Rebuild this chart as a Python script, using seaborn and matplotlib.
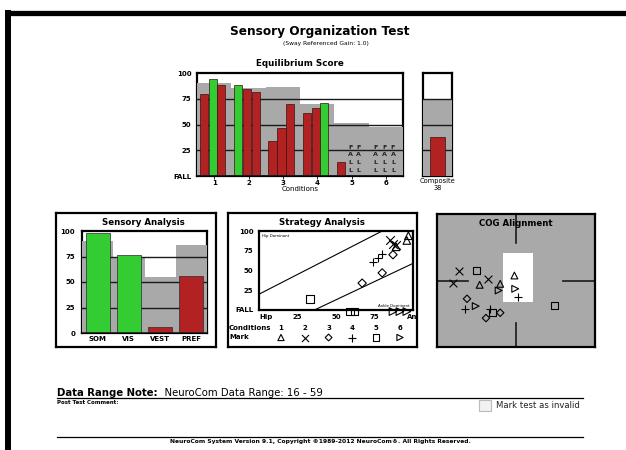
import matplotlib
matplotlib.use('Agg')
import matplotlib.pyplot as plt
from matplotlib.patches import Rectangle
import numpy as np
import pandas as pd
import seaborn as sns

plt.rcParams['font.family'] = ['DejaVu Sans']

# ---- data ----
conditions = ['1', '2', '3', '4', '5', '6']
norm_scores = [90, 85.5, 86, 70, 51.5, 48]
trial_1 = [80, 88, 34, 61, 14, np.nan]
trial_2 = [94, 84, 47, 66, np.nan, np.nan]
trial_3 = [88, 82, 70, 71, np.nan, np.nan]
composite_score = 38
composite_norm = 74

sensory_labels = ['SOM', 'VIS', 'VEST', 'PREF']
sensory_scores = [98, 76, 6, 56]
sensory_norms = [90, 75, 55, 86]

# strategy score (0 = hip, 100 = ankle) for each trial; falls have no equilibrium score
strategy_1 = [89, 97, 96]
strategy_2 = [85, 87, 89]
strategy_3 = [67, 80, 87]
strategy_4 = [74, 77, 80]
strategy_5 = [33, 59, 62]
strategy_6 = [87, 91.5, 96]

# COG alignment positions per condition (x, y)
cog_x = [[-4.6, -2.0, -0.2], [-7.2, -8.0, -3.6], [-6.2, -2.0, -3.8],
         [0.2, -6.4, -3.3], [-5.0, 4.9, -3.0], [-2.2, -0.1, -5.1]]
cog_y = [[-0.65, -0.5, 0.75], [1.5, -0.35, 0.25], [-2.75, -4.85, -5.65],
         [-2.5, -4.25, -4.25], [1.5, -3.75, -4.85], [-1.5, -1.25, -3.85]]

RED = '#B22222'
GREEN = '#33CC33'
GRAY = '#A9A9A9'
MARKERS = ['^', 'x', 'D', '+', 's', '>']

W, H = 626, 450
fig = plt.figure(figsize=(W / 100, H / 100), dpi=100)


def px_axes(x0, y0, x1, y1, **kw):
    return fig.add_axes([x0 / W, 1 - y1 / H, (x1 - x0) / W, (y1 - y0) / H], **kw)


def draw_marks(ax, x, y, cond, size, **kw):
    m = MARKERS[cond]
    if m in ('x', '+'):
        ax.scatter(x, y, marker=m, s=size * 1.3, c='black', linewidths=0.8, **kw)
    else:
        ax.scatter(x, y, marker=m, s=size * (0.6 if m == 'D' else 1), facecolors='none',
                   edgecolors='black', linewidths=0.8, **kw)


def pixel_panel(x0, y0, x1, y1):
    p = px_axes(x0, y0, x1, y1)
    p.set_xlim(x0, x1)
    p.set_ylim(y1, y0)
    p.set_xticks([])
    p.set_yticks([])
    p.patch.set_alpha(0)
    for s in p.spines.values():
        s.set_linewidth(1.6)
    return p


# ---- page background / header / footer ----
bg = px_axes(0, 0, W, H)
bg.set_xlim(0, W)
bg.set_ylim(H, 0)
bg.axis('off')
bg.plot([5, W], [12.5, 12.5], color='black', lw=3.8, solid_capstyle='butt')
bg.plot([8, 8], [10, H], color='black', lw=4.3, solid_capstyle='butt')
bg.text(320, 31, 'Sensory Organization Test', ha='center', va='center', fontsize=8.7, fontweight='bold')
bg.text(326, 44, '(Sway Referenced Gain: 1.0)', ha='center', va='center', fontsize=4.3)
bg.text(300, 64, 'Equilibrium Score', ha='center', va='center', fontsize=6.3, fontweight='bold')

t = bg.text(57, 395.5, 'Data Range Note:', ha='left', va='baseline', fontsize=7.3, fontweight='bold')
bg.annotate('  NeuroCom Data Range: 16 - 59', xy=(1, 0), xycoords=t, ha='left', va='bottom', fontsize=7.3)
bg.plot([57, 583], [398, 398], color='black', lw=0.9)
bg.text(57, 402, 'Post Test Comment:', ha='left', va='center', fontsize=4, fontweight='bold')
bg.add_patch(Rectangle((479, 400), 12, 11, fc='#F2F2F2', ec='#BBBBBB', lw=0.8))
bg.text(496, 406, 'Mark test as invalid', ha='left', va='center', fontsize=6.1, color='#222222')
bg.plot([57, 583], [437, 437], color='black', lw=0.9)
bg.text(320, 441.5, 'NeuroCom System Version 9.1, Copyright \u00a91989-2012 NeuroCom\u00ae. All Rights Reserved.',
        ha='center', va='center', fontsize=4.3, fontweight='bold')

# ---- equilibrium score ----
eq = px_axes(197, 73, 403, 176)
sns.barplot(x=conditions, y=norm_scores, color=GRAY, saturation=1, width=1.0, ax=eq, zorder=1)
offsets = [-0.3, -0.04, 0.21]
for k, trial in enumerate([trial_1, trial_2, trial_3]):
    for i, score in enumerate(trial):
        if np.isnan(score):
            for j, ch in enumerate('FALL'):
                eq.text(i + offsets[k], 28 - j * 7.5, ch, ha='center', va='center',
                        fontsize=4.6, fontweight='bold', color='#222222', zorder=4)
        else:
            col = GREEN if score >= norm_scores[i] else RED
            eq.bar(i + offsets[k], score, width=0.24, color=col, edgecolor='#3a1010', lw=0.5, zorder=3)
for v in (25, 50, 75):
    eq.axhline(v, color='#1a1a1a', lw=1.0, zorder=2)
eq.axhline(0, color='#1a1a1a', lw=1.4, zorder=4)
eq.set_xlim(-0.5, 5.5)
eq.set_ylim(0, 100)
for s in eq.spines.values():
    s.set_linewidth(1.6)
    s.set_zorder(0.5)
eq.set_yticks([0, 25, 50, 75, 100], ['FALL', '25', '50', '75', '100'])
eq.tick_params(axis='y', length=0, pad=4, labelsize=5)
eq.tick_params(axis='x', length=2, width=0.6, pad=1, labelsize=5)
for lab in eq.get_xticklabels() + eq.get_yticklabels():
    lab.set_fontweight('bold')
eq.set_xlabel('Conditions', fontsize=5, labelpad=0)
eq.set_ylabel('')

# ---- composite ----
comp = px_axes(423, 73, 452, 176)
sns.barplot(x=['Composite'], y=[composite_norm], color=GRAY, saturation=1, width=1.0, ax=comp, zorder=1)
comp.bar(0, composite_score, width=0.5, color=GREEN if composite_score >= composite_norm else RED,
         edgecolor='#3a1010', lw=0.5, zorder=3)
for v in (25, 50, 75):
    comp.axhline(v, color='#1a1a1a', lw=1.0, zorder=2)
comp.set_xlim(-0.5, 0.5)
comp.set_ylim(0, 100)
for s in comp.spines.values():
    s.set_linewidth(1.6)
    s.set_zorder(0.5)
comp.set_xticks([])
comp.set_yticks([])
comp.set_xlabel('')
comp.set_ylabel('')
bg.text(437.5, 181, 'Composite', ha='center', va='center', fontsize=4.8)
bg.text(437.5, 187.5, str(composite_score), ha='center', va='center', fontsize=4.8)

# ---- sensory analysis ----
sp = pixel_panel(56, 213, 216, 347)
sp.text(143, 222, 'Sensory Analysis', ha='center', va='center', fontsize=6.2, fontweight='bold')
sa = px_axes(82, 231, 207, 333)
status = ['above' if s >= n else 'below' for s, n in zip(sensory_scores, sensory_norms)]
sns.barplot(x=sensory_labels, y=sensory_norms, color=GRAY, saturation=1, width=1.0, ax=sa, zorder=1)
sns.barplot(x=sensory_labels, y=sensory_scores, hue=status, palette={'above': GREEN, 'below': RED},
            saturation=1, width=0.77, dodge=False, legend=False, ax=sa, zorder=3,
            edgecolor='#2a2a2a', linewidth=0.5)
for v in (25, 50, 75):
    sa.axhline(v, color='#1a1a1a', lw=1.0, zorder=2)
sa.axhline(0, color='#1a1a1a', lw=1.2, zorder=4)
sa.set_xlim(-0.5, 3.5)
sa.set_ylim(0, 100)
for s in sa.spines.values():
    s.set_linewidth(1.6)
    s.set_zorder(0.5)
sa.set_yticks([0, 25, 50, 75, 100])
sa.tick_params(axis='y', length=0, pad=5, labelsize=5)
sa.tick_params(axis='x', length=0, pad=2, labelsize=5)
for lab in sa.get_xticklabels() + sa.get_yticklabels():
    lab.set_fontweight('bold')
sa.set_xlabel('')
sa.set_ylabel('')

# ---- strategy analysis ----
stp = pixel_panel(228, 213, 417, 347)
stp.text(322, 222, 'Strategy Analysis', ha='center', va='center', fontsize=6.2, fontweight='bold')
stp.text(407, 316.5, 'Ankle', ha='left', va='center', fontsize=5, fontweight='bold', clip_on=True)
leg_x = np.linspace(281, 400, 6)
stp.text(229, 327.5, 'Conditions', ha='left', va='center', fontsize=5, fontweight='bold')
stp.text(229, 337, 'Mark', ha='left', va='center', fontsize=5, fontweight='bold')
for c in range(6):
    stp.text(leg_x[c], 327.5, conditions[c], ha='center', va='center', fontsize=5, fontweight='bold')
    draw_marks(stp, [leg_x[c]], [337.5], c, 20, zorder=3)

st = px_axes(259, 231, 413, 310)
st.set_xlim(0, 100)
st.set_ylim(0, 100)
st.plot([0, 80], [20, 100], color='black', lw=0.8)
st.plot([36, 100], [0, 59], color='black', lw=0.8)
st.text(2, 96, 'Hip Dominant', ha='left', va='top', fontsize=2.8)
st.text(98, 2.5, 'Ankle Dominant', ha='right', va='bottom', fontsize=2.8)
strategies = [strategy_1, strategy_2, strategy_3, strategy_4, strategy_5, strategy_6]
for c in range(6):
    eqs = np.array([trial_1[c], trial_2[c], trial_3[c]], dtype=float)
    ys = np.where(np.isnan(eqs), -2, eqs)
    draw_marks(st, strategies[c], ys, c, 30, zorder=3, clip_on=False)
for s in st.spines.values():
    s.set_linewidth(1.6)
st.set_yticks([0, 25, 50, 75, 100], ['FALL', '25', '50', '75', '100'])
st.set_xticks([0, 25, 50, 75], ['Hip', '25', '50', '75'])
st.tick_params(axis='both', length=0, labelsize=5)
st.tick_params(axis='x', pad=3)
st.tick_params(axis='y', pad=4)
for lab in st.get_xticklabels() + st.get_yticklabels():
    lab.set_fontweight('bold')
st.get_xticklabels()[0].set_ha('left')

# ---- COG alignment ----
cog = px_axes(437, 214, 595, 347, facecolor=GRAY)
cog.set_xlim(-10, 10)
cog.set_ylim(-10, 10)
cog.add_patch(Rectangle((-1.65, -3.2), 3.8, 7.3, fc='white', ec='none', zorder=1))
for xs, ys in [([0, 0], [5.6, 10]), ([0, 0], [-10, -6.4]), ([-10, -6.1], [0, 0]), ([6.0, 10], [0, 0])]:
    cog.plot(xs, ys, color='#1a1a1a', lw=1.2, zorder=2)
for c in range(6):
    draw_marks(cog, cog_x[c], cog_y[c], c, 24, zorder=3)
cog.text(0, 8.6, 'COG Alignment', ha='center', va='center', fontsize=6.2, fontweight='bold')
cog.set_xticks([])
cog.set_yticks([])
for s in cog.spines.values():
    s.set_linewidth(1.6)

fig.savefig('out.png', dpi=100)
